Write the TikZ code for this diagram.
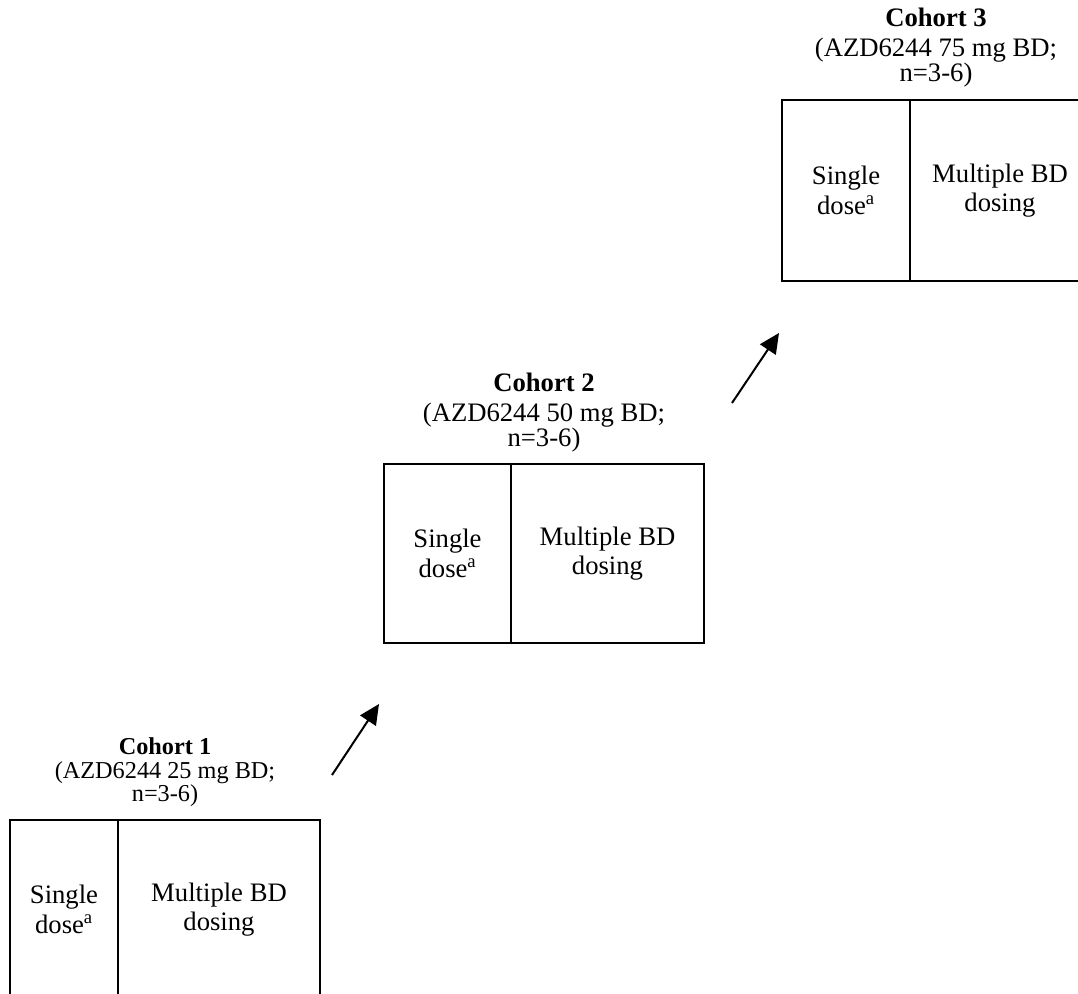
\documentclass[tikz,border=0pt]{standalone}
\usepackage{fontspec}
\setmainfont{Liberation Serif}
\usetikzlibrary{arrows.meta}
\tikzset{
  cell/.style={draw, line width=1.5pt, inner sep=0pt, align=center,
    font=\fontsize{20}{22}\selectfont},
  cohort/.style={anchor=south, inner sep=0pt, align=center,
    font=\fontsize{20}{18.75}\selectfont},
  smallcohort/.style={cohort, font=\fontsize{18.2}{16.5}\selectfont},
  stepup/.style={line width=1.5pt, -{Triangle[length=15pt,width=14pt]}}
}
\begin{document}
\begin{tikzpicture}[x=0.75pt,y=-0.75pt]
\useasboundingbox (0,0) rectangle (1078,993);
\clip (0,0) rectangle (1078,993);

% cohort 1
\node[cell, minimum width=81pt, minimum height=134.25pt] (single1) at (64,909.5) {Single\\dose\textsuperscript{a}};
\node[cell, minimum width=151.5pt, minimum height=134.25pt] (multi1) at (219,909.5) {Multiple BD\\dosing};
\node[smallcohort] (title1) at (165,807) {\textbf{Cohort 1}\\[1.5pt](AZD6244 25 mg BD;\\n=3-6)};

% cohort 2
\node[cell, minimum width=95.25pt, minimum height=134.25pt] (single2) at (447.5,553.5) {Single\\dose\textsuperscript{a}};
\node[cell, minimum width=144.75pt, minimum height=134.25pt] (multi2) at (607.5,553.5) {Multiple BD\\dosing};
\node[cohort] (title2) at (544,452) {\textbf{Cohort 2}\\[3.75pt](AZD6244 50 mg BD;\\n=3-6)};

% cohort 3
\node[cell, minimum width=96pt, minimum height=135.75pt] (single3) at (846,190.5) {Single\\dose\textsuperscript{a}};
\node[cell, minimum width=135pt, minimum height=135.75pt] (multi3) at (1000,190.5) {Multiple BD\\dosing};
\node[cohort] (title3) at (936,87) {\textbf{Cohort 3}\\[3.75pt](AZD6244 75 mg BD;\\n=3-6)};

% escalation arrows
\coordinate (tail1) at (332,775);
\coordinate (head1) at (379,704);
\coordinate (tail2) at (732,403);
\coordinate (head2) at (779,333);
\draw[stepup] (tail1) -- (head1);
\draw[stepup] (tail2) -- (head2);
\end{tikzpicture}
\end{document}
